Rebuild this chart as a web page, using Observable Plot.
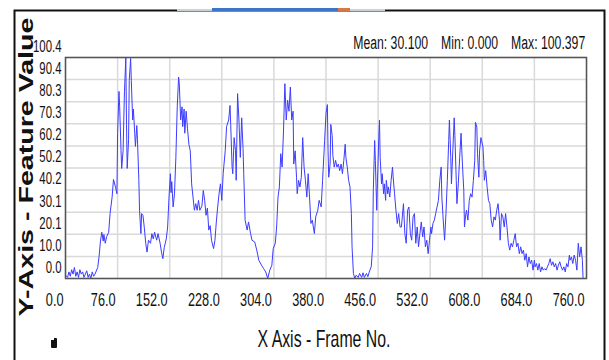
<!DOCTYPE html>
<html><head><meta charset="utf-8">
<script src="https://cdn.jsdelivr.net/npm/d3@7"></script>
<script src="https://cdn.jsdelivr.net/npm/@observablehq/plot@0.6"></script>
<style>
body{margin:0;background:#fff}
#wrap{position:relative;width:609px;height:360px;overflow:hidden;font-family:"Liberation Sans",Arial,sans-serif;color:#111}
#wrap svg{position:absolute;left:0;top:0}
.abs{position:absolute;white-space:nowrap;line-height:1}
</style></head><body><div id="wrap"></div>
<script>
// frame numbers and feature values
const frames = [0,3,5,7,9,11,13,15,17,19,21,23,25,27,29,31,33,35,37,39,41,43,
47,49,51,53,55,56,58,60,63,65,68,70,73,75,76,78,79,81,82,84,86,88,89,90,92,93,95,96,98,99,101,102,104,105,107,108,110,111,113,115,117,119,121,124,126,128,130,133,135,138,140,142,144,147,149,151,153,154,155,157,159,161,163,165,166,168,170,171,173,174,176,178,180,182,184,186,188,190,192,194,196,199,201,203,205,207,209,211,213,216,218,220,222,224,226,
228,230,233,235,238,240,241,243,244,246,248,249,251,253,255,257,259,260,262,265,267,270,272,276,279,282,286,289,292,295,298,301,303,306,308,310,312,314,316,318,320,322,324,326,328,330,332,333,335,337,338,340,342,344,346,348,350,352,354,356,358,360,363,365,368,370,373,375,378,380,382,383,384,386,387,389,390,392,394,396,398,400,402,404,406,408,409,411,413,415,417,418,420,422,424,427,429,432,434,436,439,441,444,446,448,449,451,452,454,455,457,458,459,461,462,464,465,467,468,470,471,473,475,477,478,480,482,484,486,488,
490,493,495,497,499,501,503,505,507,509,511,513,515,517,519,521,523,525,527,529,531,533,534,536,538,540,542,544,546,548,549,551,553,555,557,559,560,562,563,565,567,568,570,571,573,575,577,579,581,582,584,585,587,589,591,593,595,597,598,600,601,603,604,606,607,609,610,611,613,615,617,619,621,623,625,627,629,631,633,634,636,638,640,642,644,646,648,650,652,654,656,658,660,662,664,666,668,670,672,674,676,678,680,682,684,685,687,689,691,693,695,697,699,701,703,705,707,709,711,713,715,717,719,721,723,725,727,729,731,733,735,736,738,740,742,744,746,748,750,752,754,755];
const values = [1.5,0.5,3,1,4,2,5,1,3,0.5,4,2,3,0.5,2,3.5,0.5,2,0,3,1,2,
5,10,17,21,17,20,16,19,21,29.5,37,45,41.5,38.5,66,85,78,58,50,58,85,100.4,70,50,63,90,100,90,72,77,66,60,69.5,63,44.6,31,20.4,29.5,28.7,23,16,12,17.4,16,20.4,18,21,17.4,20.4,16,12,9,14,18,23.4,37,47.6,39,44,32.5,38.5,55,78,91.5,88.5,72,78,69,77,66,76,68,61,58,43,37,31,34,31,35.5,31,33,40,35.5,28.7,32,22,24,17.4,13.6,17.4,25.7,32.5,38.5,43,
35.5,47.6,58,69,72,78.6,70,50.6,47.6,64,58,44.6,84,72,55,73,59,47.6,26.5,22,25.7,20.4,17.4,16.6,12.9,8.3,6,4.5,3,0,3.8,6,13.6,16,23.4,37,41.6,56.7,50.6,67,88.5,72,81,76,87,72,76,52,58,46,38.5,44.6,41.6,46,64,50.6,44.6,37,47.6,37,25,26.5,20.4,28,31,35.5,32.5,44.6,62.7,75,79,58,46,52,70,65,56,50.6,53.7,50.6,52,49,52,47.6,53.7,61,55,50.6,44.6,41.6,29.5,14.4,2.3,0,1.5,0.5,2.3,0.5,2.6,0.5,2.3,0.8,3.8,5.3,14.4,40,62.7,53.7,31,43,64,72,55,43,47.6,38.5,43,35.5,44.6,38.5,41.6,37,44.6,50.6,46,38.5,31,25,29.5,23.4,
23.4,34,20.4,16,31,32.5,20.4,17.4,28,29.5,16,23.4,14.4,20.4,25.7,18.9,23.4,14.4,17.4,11.3,17.4,23.4,20.4,25,26.5,29.5,32.5,35.5,44.6,50.6,37,26.5,17.4,29.5,44.6,62.7,72,55,43,58,73,65,44.6,34,43,55,66,52,40,23.4,29.5,31,26.5,35.5,38.5,37,44.6,53.7,71,68.8,56.7,46,58,64,62.7,59.7,53.7,44.6,49,41.6,35.5,34,26.5,23.4,28,26.5,31,34,26.5,17.4,29.5,28,23.4,29.5,23.4,16,12.9,16,14.4,17.4,20.4,14.4,16,11.3,14.4,11.3,12.9,8.3,11.3,5.3,9.8,6.8,8.3,3.8,8.3,5.3,6.8,3.8,6.8,3,5.3,3.8,4.5,3.8,5.3,6.8,9,6,7.6,5.3,6.8,3.8,6,7.6,5.3,3.8,5.3,3,6.8,5.3,10.6,8.3,9.8,6.8,10.6,8.3,3.8,16,9.8,14.4,8.3,0];
const xTickLabels = ["0.0","76.0","152.0","228.0","304.0","380.0","456.0","532.0","608.0","684.0","760.0"];
const yTickLabels = ["0.0","10.0","20.1","30.1","40.2","50.2","60.2","70.3","80.3","90.4","100.4"];
const statsLabels = ["Mean: 30.100","Min: 0.000","Max: 100.397"];
const xTitle = "X Axis - Frame No.";
const yTitle = "Y-Axis - Feature Value";

const data = frames.map((f, i) => ({frame: f, value: values[i]}));
const xTicks = xTickLabels.map(Number);
const yTicks = yTickLabels.map(Number);

const chart = Plot.plot({
  width: 609, height: 360,
  marginLeft: 65, marginRight: 23, marginTop: 57, marginBottom: 82,
  x: {domain: [0, 760]},
  y: {domain: [0, 100.4]},
  style: {background: "transparent"},
  marks: [
    Plot.gridX(xTicks, {stroke: "#d9d9d9", strokeOpacity: 1, strokeWidth: 1.5}),
    Plot.gridY(yTicks, {stroke: "#d9d9d9", strokeOpacity: 1, strokeWidth: 1.5}),
    Plot.line(data, {x: "frame", y: "value", stroke: "#3c3cff", strokeWidth: 1}),
    Plot.frame({stroke: "#555", strokeWidth: 1.5}),
    Plot.axisX(xTicks, {tickSize: 0, tickPadding: 0, tickFormat: d => d.toFixed(1), textAnchor: "end", dx: -2, dy: 14, fontSize: 19, fontFamily: "Liberation Sans", fill: "#111", label: null}),
    Plot.axisY(yTicks, {tickSize: 0, tickPadding: 3, tickFormat: d => d.toFixed(1), dx: -1, dy: -11, fontSize: 17, fontFamily: "Liberation Sans", fill: "#111", label: null}),
    // outer window border (bottom edge falls outside the picture)
    Plot.frame({stroke: "#111", strokeWidth: 2, insetLeft: -51, insetTop: -47, insetRight: -18, insetBottom: -90})
  ]
});

// condense tick labels horizontally like the reference screenshot
d3.select(chart).selectAll('g[aria-label="x-axis tick label"] text, g[aria-label="y-axis tick label"] text')
  .attr("transform", function() { return (this.getAttribute("transform") || "") + " scale(0.67,1)"; });

const wrap = document.getElementById("wrap");
wrap.appendChild(chart);

function add(html, css) {
  const d = document.createElement("div");
  d.className = "abs";
  d.innerHTML = html;
  Object.assign(d.style, css);
  wrap.appendChild(d);
  return d;
}
// window strip along the top edge
add("", {left: "177px", top: "9px", width: "35px", height: "2px", background: "#c9d3d6"});
add("", {left: "212px", top: "8px", width: "126px", height: "3px", background: "#3b76c8"});
add("", {left: "338px", top: "8px", width: "12px", height: "3px", background: "#d7774a"});
add("", {left: "350px", top: "9px", width: "35px", height: "2px", background: "#c9d3d6"});

// stats
add(statsLabels.map(s => `<span style="margin-left:19px">${s}</span>`).join(""),
  {right: "24px", top: "34px", fontSize: "18px", transform: "scaleX(0.68)", transformOrigin: "right center"});

// titles
add(xTitle, {left: "324px", top: "339px", fontSize: "24px", transform: "translate(-50%,-50%) scaleX(0.66)"});
add(yTitle, {left: "26px", top: "167px", fontSize: "20px", fontWeight: "bold", transform: "translate(-50%,-50%) rotate(-90deg) scaleX(1.43)"});

// small icon
add("", {left: "51px", top: "338px", width: "6px", height: "10px", background: "#111", borderRadius: "1px"});
add("", {left: "51px", top: "338px", width: "3px", height: "2px", background: "#fff"});
</script></body></html>
